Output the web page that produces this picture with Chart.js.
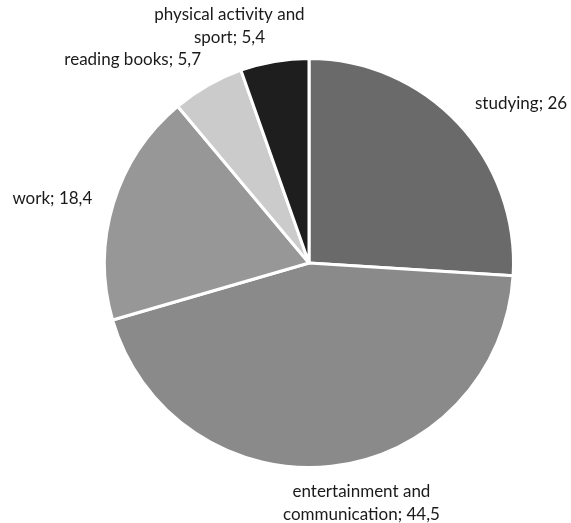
<!DOCTYPE html>
<html>
<head>
<meta charset="utf-8">
<script src="https://cdn.jsdelivr.net/npm/chart.js@4/dist/chart.umd.min.js"></script>
<style>
  html, body { margin: 0; padding: 0; background: #fff; }
  #chart { display: block; }
</style>
</head>
<body>
<canvas id="chart" width="571" height="523"></canvas>
<script>
const categories = ['studying', 'entertainment and communication', 'work', 'reading books', 'physical activity and sport'];
const values = [26, 44.5, 18.4, 5.7, 5.4];
const valueLabels = ['26', '44,5', '18,4', '5,7', '5,4'];

const slice_colors = [
    '#6a6a6a', // studying
    '#8a8a8a', // entertainment
    '#979797', // work
    '#cbcbcb', // reading books
    '#1e1e1e'  // physical activity
];

// label text lines, and where the label sits relative to the slice's outer edge
const label_lines = [
    ['studying; ' + valueLabels[0]],
    ['entertainment and', 'communication; ' + valueLabels[1]],
    ['work; ' + valueLabels[2]],
    ['reading books; ' + valueLabels[3]],
    ['physical activity and', 'sport; ' + valueLabels[4]]
];
const label_push = [
    {dx: 63, dy: -19},
    {dx: 30, dy: 37},
    {dx: -61, dy: -5},
    {dx: -75, dy: -26},
    {dx: -45, dy: -35}
];

const sliceLabels = {
    id: 'sliceLabels',
    afterDraw: function (chart) {
        const ctx = chart.ctx;
        const arcs = chart.getDatasetMeta(0).data;
        ctx.save();
        ctx.font = '17px Lato, "Open Sans", sans-serif';
        ctx.fillStyle = '#1a1a1a';
        ctx.textAlign = 'center';
        ctx.textBaseline = 'middle';
        arcs.forEach((arc, i) => {
            const mid = (arc.startAngle + arc.endAngle) / 2;
            const x = arc.x + Math.cos(mid) * arc.outerRadius + label_push[i].dx;
            const y = arc.y + Math.sin(mid) * arc.outerRadius + label_push[i].dy;
            const lines = label_lines[i];
            lines.forEach((line, j) => {
                ctx.fillText(line, x, y + (j - (lines.length - 1) / 2) * 23);
            });
        });
        ctx.restore();
    }
};

new Chart(document.getElementById('chart').getContext('2d'), {
    type: 'pie',
    data: {
        labels: categories,
        datasets: [{
            data: values,
            backgroundColor: slice_colors,
            borderColor: '#ffffff',
            borderWidth: 3
        }]
    },
    options: {
        responsive: false,
        animation: false,
        layout: {
            padding: {left: 103, right: 56, top: 57, bottom: 54}
        },
        plugins: {
            legend: {display: false},
            tooltip: {enabled: false}
        }
    },
    plugins: [sliceLabels]
});
</script>
</body>
</html>
